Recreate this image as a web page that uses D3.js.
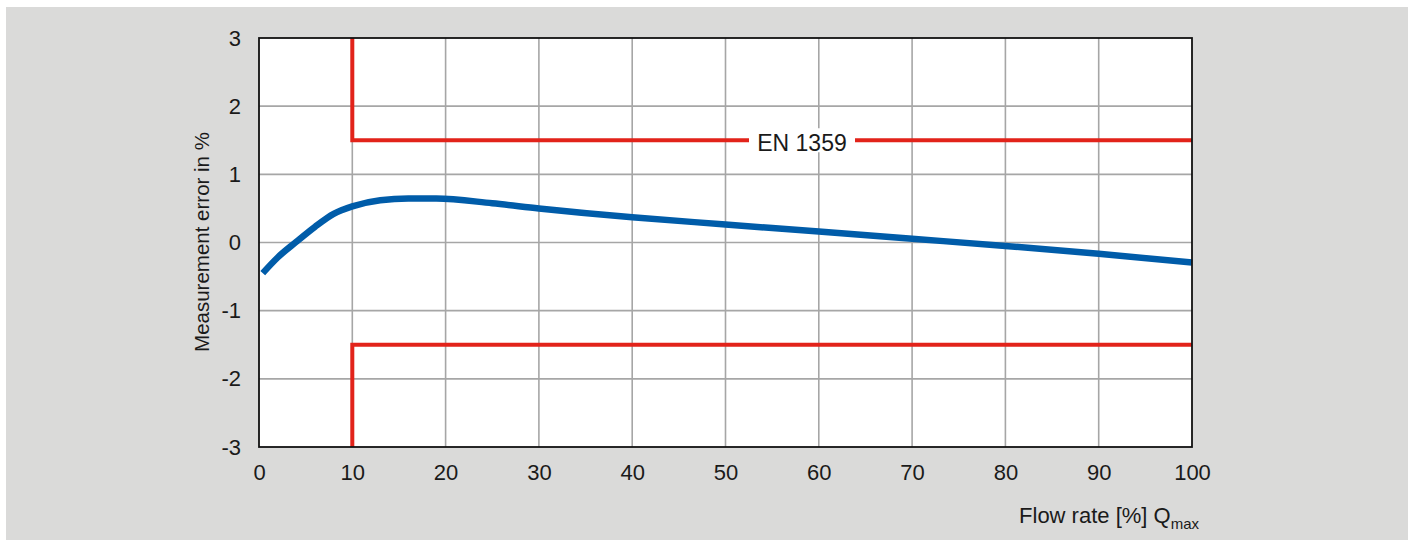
<!DOCTYPE html>
<html><head><meta charset="utf-8">
<script src="https://cdn.jsdelivr.net/npm/d3@7"></script>
<style>
html,body{margin:0;padding:0;background:#fff;}
svg{display:block;}
text{font-family:"Liberation Sans",Arial,sans-serif;fill:#1a1a1a;}
</style></head><body>
<svg id="chart" width="1408" height="540"></svg>
<script>
const flowRate = [0.4, 2, 4, 6, 8, 10, 13, 16, 19, 25, 30, 40, 50, 60, 70, 80, 90, 100];
const measError = [-0.45, -0.22, 0.01, 0.23, 0.42, 0.53, 0.62, 0.645, 0.645, 0.575, 0.5, 0.37, 0.265, 0.16, 0.055, -0.05, -0.165, -0.295];
const xTicks = [0,10,20,30,40,50,60,70,80,90,100];
const yTicks = [-3,-2,-1,0,1,2,3];
const limitX = 10;
const limitUpper = 1.5;
const limitLower = -1.5;
const limitLabel = "EN 1359";
const xTitle = "Flow rate [%] Q";
const xTitleSub = "max";
const yTitle = "Measurement error in %";

const svg = d3.select("#chart");
svg.append("rect").attr("x",6).attr("y",7).attr("width",1402).attr("height",533).attr("fill","#dadad9");

const L=259, R=1192, T=38, B=447;
const x = d3.scaleLinear().domain([0,100]).range([L,R]);
const y = d3.scaleLinear().domain([-3,3]).range([B,T]);

svg.append("rect").attr("x",L).attr("y",T).attr("width",R-L).attr("height",B-T).attr("fill","#fff");

// grid
svg.append("g").selectAll("line").data(xTicks.slice(1,-1)).join("line")
  .attr("x1",d=>x(d)).attr("x2",d=>x(d)).attr("y1",T).attr("y2",B)
  .attr("stroke","#a6a6a6").attr("stroke-width",1.6);
svg.append("g").selectAll("line").data(yTicks.slice(1,-1)).join("line")
  .attr("y1",d=>y(d)).attr("y2",d=>y(d)).attr("x1",L).attr("x2",R)
  .attr("stroke","#a6a6a6").attr("stroke-width",1.6);

// limits
const red="#e2231a";
svg.append("path").attr("fill","none").attr("stroke",red).attr("stroke-width",4)
  .attr("d",`M${x(limitX)},${T}V${y(limitUpper)}H${R}`);
svg.append("path").attr("fill","none").attr("stroke",red).attr("stroke-width",4)
  .attr("d",`M${x(limitX)},${B}V${y(limitLower)}H${R}`);
const lx = x(58.2), ly = y(limitUpper);
svg.append("rect").attr("x",lx-53).attr("y",ly-12).attr("width",106).attr("height",24).attr("fill","#fff");
svg.append("text").attr("x",lx).attr("y",ly+11).attr("text-anchor","middle")
  .attr("font-size",23).text(limitLabel);

// curve
const data = flowRate.map((f,i)=>[f,measError[i]]);
svg.append("path").datum(data).attr("fill","none").attr("stroke","#005ca9")
  .attr("stroke-width",6.5).attr("stroke-linejoin","round")
  .attr("d", d3.line().x(d=>x(d[0])).y(d=>y(d[1])).curve(d3.curveMonotoneX));

// frame
svg.append("rect").attr("x",L).attr("y",T).attr("width",R-L).attr("height",B-T)
  .attr("fill","none").attr("stroke","#111").attr("stroke-width",1.8);

// axes
const fmt = d => String(d);
const gy = svg.append("g").attr("transform",`translate(${L},0)`)
  .call(d3.axisLeft(y).tickValues(yTicks).tickSize(0).tickPadding(18).tickFormat(fmt));
gy.select(".domain").remove();
gy.selectAll("text").attr("font-size",22).attr("fill","#1a1a1a").style("font-family","Liberation Sans, Arial, sans-serif");

const gx = svg.append("g").attr("transform",`translate(0,${B})`)
  .call(d3.axisBottom(x).tickValues(xTicks).tickSize(0).tickPadding(17).tickFormat(fmt));
gx.select(".domain").remove();
gx.selectAll("text").attr("font-size",22).attr("fill","#1a1a1a").style("font-family","Liberation Sans, Arial, sans-serif");

// titles
svg.append("text").attr("transform",`translate(209,242) rotate(-90)`).attr("text-anchor","middle")
  .attr("font-size",20.5).text(yTitle);
const xt = svg.append("text").attr("x",1199).attr("y",523).attr("text-anchor","end").attr("font-size",22);
xt.append("tspan").text(xTitle);
xt.append("tspan").attr("font-size",15).attr("dy",6).text(xTitleSub);
</script>
</body></html>
